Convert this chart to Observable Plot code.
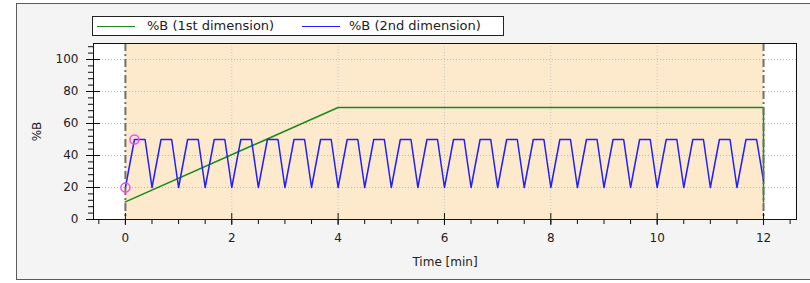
<!DOCTYPE html>
<html>
<head>
<meta charset="utf-8">
<script src="https://cdn.jsdelivr.net/npm/d3@7"></script>
<script src="https://cdn.jsdelivr.net/npm/@observablehq/plot@0.6"></script>
<style>
  html, body { margin: 0; padding: 0; background: #ffffff; }
  #wrap { position: relative; width: 810px; height: 283px; overflow: hidden; }
  #panel { position: absolute; left: 16px; top: 3px; width: 800px; height: 277px;
           background: #f4f4f4; border: 1px solid #5a5a5a; box-sizing: border-box; }
  #chart { position: absolute; left: 0; top: 0; }
  #legend { position: absolute; left: 92px; top: 16px; width: 412px; height: 20px;
            border: 1px solid #222; background: #fff; box-sizing: border-box;
            font: 13px "DejaVu Sans", sans-serif; color: #222; }
  #legend .item { position: absolute; top: 0; height: 18px; line-height: 18px; white-space: nowrap; }
  #legend .sw { position: absolute; top: 9px; height: 0; border-top: 1.5px solid; }
</style>
</head>
<body>
<div id="wrap">
  <div id="panel"></div>
  <div id="chart"></div>
  <div id="legend"></div>
</div>
<script>
// ---- data ----
const seriesNames = ["%B (1st dimension)", "%B (2nd dimension)"];
const seriesColors = ["#1a8a1a", "#1f1fff"];

// 1st dimension gradient (time in min, %B)
const firstTime  = [0, 4, 12, 12];
const firstValue = [11, 70, 70, 11];

// 2nd dimension repeated gradient (time in min, %B)
const secondTime = [
  0, 0.17, 0.37, 0.5, 0.67, 0.87, 1, 1.17, 1.37, 1.5, 1.67, 1.87,
  2, 2.17, 2.37, 2.5, 2.67, 2.87, 3, 3.17, 3.37, 3.5, 3.67, 3.87,
  4, 4.17, 4.37, 4.5, 4.67, 4.87, 5, 5.17, 5.37, 5.5, 5.67, 5.87,
  6, 6.17, 6.37, 6.5, 6.67, 6.87, 7, 7.17, 7.37, 7.5, 7.67, 7.87,
  8, 8.17, 8.37, 8.5, 8.67, 8.87, 9, 9.17, 9.37, 9.5, 9.67, 9.87,
  10, 10.17, 10.37, 10.5, 10.67, 10.87, 11, 11.17, 11.37, 11.5, 11.67, 11.87,
  12
];
const secondValue = [
  20, 50, 50, 20, 50, 50, 20, 50, 50, 20, 50, 50,
  20, 50, 50, 20, 50, 50, 20, 50, 50, 20, 50, 50,
  20, 50, 50, 20, 50, 50, 20, 50, 50, 20, 50, 50,
  20, 50, 50, 20, 50, 50, 20, 50, 50, 20, 50, 50,
  20, 50, 50, 20, 50, 50, 20, 50, 50, 20, 50, 50,
  20, 50, 50, 20, 50, 50, 20, 50, 50, 20, 50, 50,
  24
];

// highlighted points (magenta circles)
const markTime  = [0, 0.17];
const markValue = [20, 50];

// method window (shaded) and its boundaries
const windowStart = 0;
const windowEnd = 12;

// axis ticks
const xMajorTicks = [0, 2, 4, 6, 8, 10, 12];
const xMinorTicks = [-0.5, 0, 0.5, 1, 1.5, 2, 2.5, 3, 3.5, 4, 4.5, 5, 5.5, 6, 6.5, 7, 7.5, 8, 8.5, 9, 9.5, 10, 10.5, 11, 11.5, 12, 12.5];
const yMajorTicks = [0, 20, 40, 60, 80, 100];
const yMinorTicks = [0, 4, 8, 12, 16, 20, 24, 28, 32, 36, 40, 44, 48, 52, 56, 60, 64, 68, 72, 76, 80, 84, 88, 92, 96, 100, 104, 108];
const xGridTicks = [2, 4, 6, 8, 10];
const yGridTicks = [20, 40, 60, 80, 100];

// ---- build tables ----
const first = firstTime.map((t, i) => ({t, v: firstValue[i]}));
const second = secondTime.map((t, i) => ({t, v: secondValue[i]}));
const marks = markTime.map((t, i) => ({t, v: markValue[i]}));
const shade = [{start: windowStart, end: windowEnd}];
const bounds = [windowStart, windowEnd];

const textColor = "#222";
const plot = Plot.plot({
  width: 810,
  height: 283,
  marginLeft: 93,
  marginRight: 14,
  marginTop: 43,
  marginBottom: 64,
  x: {domain: [-0.6, 12.62], label: null},
  y: {domain: [0, 110], label: null},
  style: {background: "transparent", fontFamily: "DejaVu Sans", fontSize: "12px", color: textColor},
  marks: [
    Plot.frame({fill: "white", stroke: null}),
    Plot.rect(shade, {x1: "start", x2: "end", fill: "#fde9cc"}),
    Plot.gridY(yGridTicks, {stroke: "#b8b8b8", strokeOpacity: 1, strokeDasharray: "1,2"}),
    Plot.gridX(xGridTicks, {stroke: "#c8c8c8", strokeOpacity: 1, strokeDasharray: "1,2"}),
    Plot.line(first, {x: "t", y: "v", stroke: seriesColors[0], strokeWidth: 1.5}),
    Plot.line(second, {x: "t", y: "v", stroke: seriesColors[1], strokeWidth: 1.5}),
    Plot.ruleX(bounds, {stroke: "#707070", strokeWidth: 2, strokeDasharray: "8,3,2,3"}),
    Plot.dot(marks, {x: "t", y: "v", r: 4.5, stroke: "#ff44ff", strokeWidth: 1.5, fill: "none"}),
    Plot.frame({stroke: "#111", fill: null}),
    // y axis: major ticks crossing the axis, with labels
    Plot.axisY(yMajorTicks, {anchor: "left", tickSize: 14, dx: 7, tickPadding: 8, stroke: "#111", fill: textColor, label: null}),
    // y axis: minor ticks
    Plot.axisY(yMinorTicks, {anchor: "left", tickSize: 5, tickFormat: () => "", stroke: "#111",
      label: "%B", labelArrow: "none", labelAnchor: "center", labelOffset: 61}),
    // x axis: major ticks crossing the axis, with labels
    Plot.axisX(xMajorTicks, {anchor: "bottom", tickSize: 12, dy: -6, tickPadding: 8, stroke: "#111", fill: textColor, label: null}),
    // x axis: minor ticks
    Plot.axisX(xMinorTicks, {anchor: "bottom", tickSize: 5, tickFormat: () => "", stroke: "#111",
      label: "Time [min]", labelArrow: "none", labelAnchor: "center", labelOffset: 46})
  ]
});
document.getElementById("chart").appendChild(plot);

// legend (HTML)
const legend = document.getElementById("legend");
const legendLayout = [
  {sw: 4, text: 54},
  {sw: 209, text: 256}
];
seriesNames.forEach((name, i) => {
  const sw = document.createElement("div");
  sw.className = "sw";
  sw.style.left = legendLayout[i].sw + "px";
  sw.style.width = "38px";
  sw.style.borderTopColor = seriesColors[i];
  legend.appendChild(sw);
  const it = document.createElement("div");
  it.className = "item";
  it.style.left = legendLayout[i].text + "px";
  it.textContent = name;
  legend.appendChild(it);
});
</script>
</body>
</html>
